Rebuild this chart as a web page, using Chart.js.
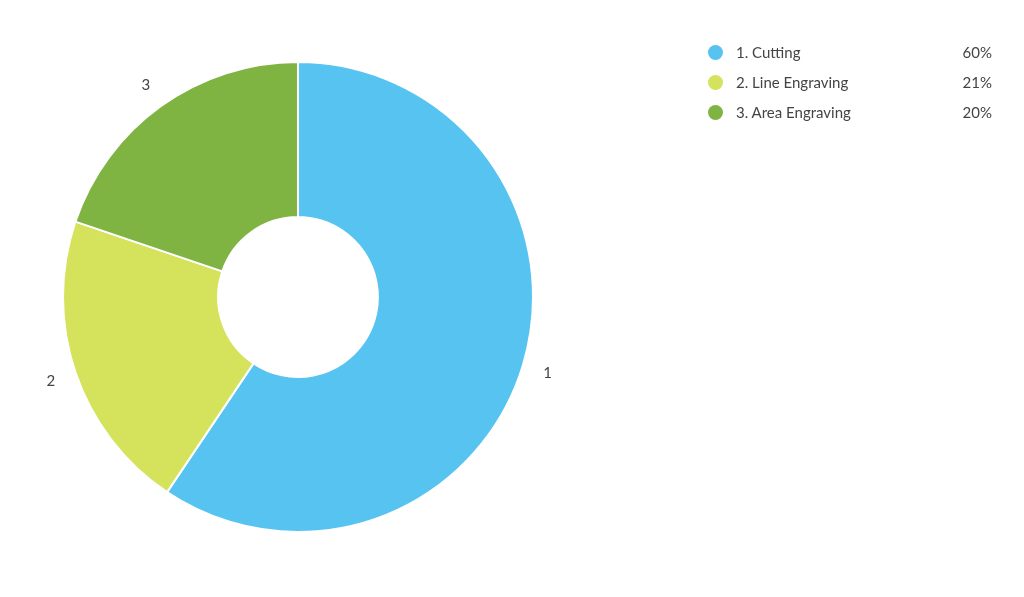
<!DOCTYPE html>
<html>
<head>
<meta charset="utf-8">
<script src="https://cdn.jsdelivr.net/npm/chart.js@4"></script>
<style>
  html, body { margin: 0; padding: 0; background: #fff; }
  #wrap { position: relative; width: 1024px; height: 597px; }
  #legend { position: absolute; left: 708px; top: 42px; width: 284px;
            font-family: Lato, "Noto Sans", sans-serif; font-size: 15px; color: #444; }
  .row { position: relative; height: 30px; line-height: 20px; }
  .dot { position: absolute; left: 0; top: 3px; width: 15px; height: 15px; border-radius: 50%; }
  .name { position: absolute; left: 28px; top: 0; }
  .pct { position: absolute; right: 0; top: 0; }
</style>
</head>
<body>
<div id="wrap">
  <canvas id="jobChart" width="1024" height="597"></canvas>
  <div id="legend"></div>
</div>
<script>
// Job types and their share
const categories = ["Cutting", "Line Engraving", "Area Engraving"];
const shares = [60, 21, 20];
const colors = ["#57C3F1", "#D4E25C", "#7FB342"];

// Numbers drawn just outside each slice
const sliceNumbers = {
    id: "sliceNumbers",
    afterDatasetsDraw(chart) {
        const c = chart.ctx;
        const arcs = chart.getDatasetMeta(0).data;
        c.save();
        c.font = "15px Lato, 'Noto Sans', sans-serif";
        c.fillStyle = "#444";
        c.textAlign = "center";
        c.textBaseline = "middle";
        arcs.forEach((arc, i) => {
            const mid = (arc.startAngle + arc.endAngle) / 2;
            const r = arc.outerRadius + 26;
            c.fillText(String(i + 1), arc.x + Math.cos(mid) * r, arc.y + Math.sin(mid) * r);
        });
        c.restore();
    }
};

new Chart(document.getElementById("jobChart"), {
    type: "doughnut",
    data: {
        labels: categories.map((c, i) => (i + 1) + ". " + c),
        datasets: [{
            data: shares,
            backgroundColor: colors,
            borderColor: "#fff",
            borderWidth: 2
        }]
    },
    options: {
        responsive: false,
        animation: false,
        cutout: "34%",
        layout: { padding: { left: 62, right: 490, top: 61, bottom: 64 } },
        plugins: {
            legend: { display: false },
            tooltip: { enabled: false }
        }
    },
    plugins: [sliceNumbers]
});

// Legend on the right
const legend = document.getElementById("legend");
categories.forEach((c, i) => {
    const row = document.createElement("div");
    row.className = "row";
    row.innerHTML =
        '<span class="dot" style="background:' + colors[i] + '"></span>' +
        '<span class="name">' + (i + 1) + ". " + c + '</span>' +
        '<span class="pct">' + shares[i] + '%</span>';
    legend.appendChild(row);
});
</script>
</body>
</html>
